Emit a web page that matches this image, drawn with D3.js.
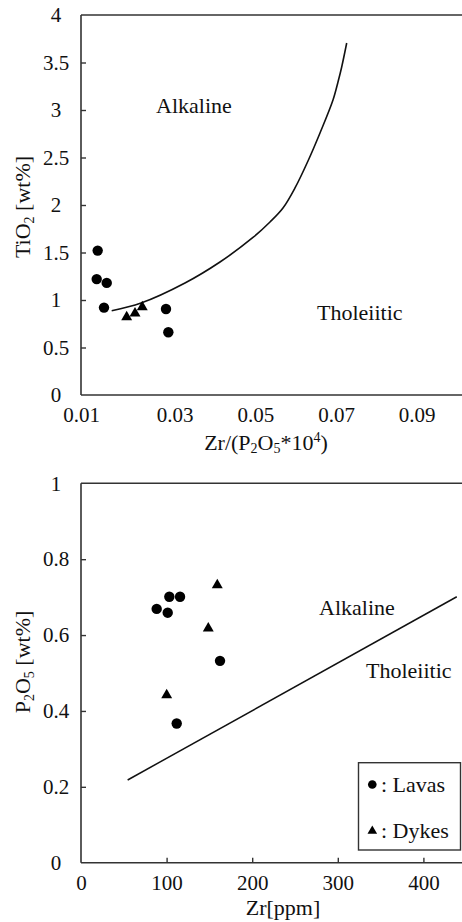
<!DOCTYPE html>
<html>
<head>
<meta charset="utf-8">
<script src="https://cdn.jsdelivr.net/npm/d3@7/dist/d3.min.js"></script>
<style>
  html, body { margin: 0; padding: 0; background: #fff; }
  svg { display: block; }
</style>
</head>
<body>
<script>
// ---------- DATA ----------
// Top panel: TiO2 vs Zr/(P2O5*10^4)
const topXTicks = [0.01, 0.03, 0.05, 0.07, 0.09];
const topYTicks = [0, 0.5, 1, 1.5, 2, 2.5, 3, 3.5, 4];
const topLavasX = [0.01356, 0.01335, 0.01549, 0.01491, 0.02814, 0.02864];
const topLavasY = [1.52, 1.22, 1.18, 0.92, 0.905, 0.66];
const topDykesX = [0.01975, 0.02153, 0.02308];
const topDykesY = [0.82, 0.86, 0.925];
const topCurveX = [0.01655, 0.02281, 0.03255, 0.04123, 0.04941, 0.05363, 0.05685, 0.05983, 0.06305, 0.06603, 0.06925, 0.07049, 0.07141, 0.07265];
const topCurveY = [0.887, 0.968, 1.179, 1.400, 1.658, 1.821, 1.968, 2.179, 2.463, 2.758, 3.105, 3.295, 3.453, 3.705];

// Bottom panel: P2O5 vs Zr
const botXTicks = [0, 100, 200, 300, 400];
const botYTicks = [0, 0.2, 0.4, 0.6, 0.8, 1];
const botLavasX = [88.4, 101.3, 103.2, 115.7, 162.4, 111.8];
const botLavasY = [0.669, 0.659, 0.701, 0.701, 0.532, 0.367];
const botDykesX = [159.2, 148.7, 100.1];
const botDykesY = [0.732, 0.618, 0.442];
const botLineX = [54.5, 439];
const botLineY = [0.218, 0.701];

const legendLabels = [": Lavas", ": Dykes"];
const fieldLabels = ["Alkaline", "Tholeiitic"];

// ---------- LAYOUT ----------
const W = 462, H = 922;
const FONT = 21;
const SERIF = '"Liberation Serif", "DejaVu Serif", "Times New Roman", Times, serif';
const svg = d3.select("body").append("svg").attr("width", W).attr("height", H)
  .attr("font-family", SERIF);
svg.append("rect").attr("width", W).attr("height", H).attr("fill", "#fff");

const axisColor = "#333";
const plotLeft = 81, plotRight = 462;

function styleAxis(g) {
  g.attr("font-family", SERIF);
  g.selectAll("path.domain").remove();
  g.selectAll(".tick line").attr("stroke", axisColor).attr("stroke-width", 1.4);
  g.selectAll(".tick text").attr("font-size", FONT).attr("font-family", SERIF).attr("fill", "#111");
}

function frame(g, top, bottom) {
  g.append("line").attr("x1", plotLeft).attr("x2", plotLeft).attr("y1", top).attr("y2", bottom)
    .attr("stroke", axisColor).attr("stroke-width", 1.6);
  g.append("line").attr("x1", plotLeft).attr("x2", plotRight).attr("y1", top).attr("y2", top)
    .attr("stroke", axisColor).attr("stroke-width", 1.6);
  g.append("line").attr("x1", plotLeft).attr("x2", plotRight).attr("y1", bottom).attr("y2", bottom)
    .attr("stroke", axisColor).attr("stroke-width", 1.6);
}

function label(g, x, y, size) {
  return g.append("text").attr("x", x).attr("y", y).attr("font-size", size)
    .attr("font-family", SERIF).attr("fill", "#111");
}

const circleSym = d3.symbol().type(d3.symbolCircle).size(Math.PI * 5.2 * 5.2);
const triSym = d3.symbol().type(d3.symbolTriangle).size(52);

// ---------- TOP PANEL ----------
const tTop = 15, tBottom = 395;
const xT = d3.scaleLinear().domain([0.01, 0.03, 0.1]).range([plotLeft, 174.7, 457]);
const yT = d3.scaleLinear().domain([0, 4]).range([tBottom, tTop]);
const gT = svg.append("g");

const yAxT = gT.append("g").attr("transform", `translate(${plotLeft},0)`)
  .call(d3.axisLeft(yT).tickValues(topYTicks).tickSizeInner(-5).tickSizeOuter(0).tickFormat(d3.format("~g")));
styleAxis(yAxT);
yAxT.selectAll(".tick text").attr("text-anchor", "middle").attr("x", -25);
yAxT.selectAll(".tick").filter(d => d === 0 || d === 4).select("line").remove();

const xAxT = gT.append("g").attr("transform", `translate(0,${tBottom})`)
  .call(d3.axisBottom(xT).tickValues(topXTicks).tickSize(0).tickPadding(12).tickFormat(d3.format(".2f")));
styleAxis(xAxT);

frame(gT, tTop, tBottom);

const curve = d3.line().x(d => xT(d[0])).y(d => yT(d[1])).curve(d3.curveCatmullRom.alpha(0.5));
gT.append("path").datum(d3.zip(topCurveX, topCurveY)).attr("d", curve)
  .attr("fill", "none").attr("stroke", "#111").attr("stroke-width", 1.6);

gT.selectAll("path.lava").data(d3.zip(topLavasX, topLavasY)).join("path").attr("class", "lava")
  .attr("d", circleSym).attr("transform", d => `translate(${xT(d[0])},${yT(d[1])})`).attr("fill", "#000");
gT.selectAll("path.dyke").data(d3.zip(topDykesX, topDykesY)).join("path").attr("class", "dyke")
  .attr("d", triSym).attr("transform", d => `translate(${xT(d[0])},${yT(d[1])})`).attr("fill", "#000");

label(gT, 156, 113, 22).text(fieldLabels[0]);
label(gT, 317, 320, 22).text(fieldLabels[1]);

// axis titles top
const tyt = label(gT, 0, 0, 22).attr("transform", "translate(30,207) rotate(-90)").attr("text-anchor", "middle");
tyt.append("tspan").text("TiO");
tyt.append("tspan").attr("font-size", 14).attr("dy", 4).text("2");
tyt.append("tspan").attr("dy", -4).text(" [wt%]");

const txt = label(gT, 266, 450, 22).attr("text-anchor", "middle");
txt.append("tspan").text("Zr/(P");
txt.append("tspan").attr("font-size", 14).attr("dy", 3).text("2");
txt.append("tspan").attr("dy", -3).text("O");
txt.append("tspan").attr("font-size", 14).attr("dy", 3).text("5");
txt.append("tspan").attr("dy", -3).text("*10");
txt.append("tspan").attr("font-size", 14).attr("dy", -8).text("4");
txt.append("tspan").attr("dy", 8).text(")");

// ---------- BOTTOM PANEL ----------
const bTop = 483.3, bBottom = 862.7;
const xB = d3.scaleLinear().domain([0, 450]).range([plotLeft, plotLeft + 450 * 0.856]);
const yB = d3.scaleLinear().domain([0, 1]).range([bBottom, bTop]);
const gB = svg.append("g");

const yAxB = gB.append("g").attr("transform", `translate(${plotLeft},0)`)
  .call(d3.axisLeft(yB).tickValues(botYTicks).tickSizeInner(-5).tickSizeOuter(0).tickFormat(d3.format("~g")));
styleAxis(yAxB);
yAxB.selectAll(".tick text").attr("text-anchor", "middle").attr("x", -25);
yAxB.selectAll(".tick").filter(d => d === 0 || d === 1).select("line").remove();

const xAxB = gB.append("g").attr("transform", `translate(0,${bBottom})`)
  .call(d3.axisBottom(xB).tickValues(botXTicks).tickSizeInner(-5).tickSizeOuter(0).tickPadding(12).tickFormat(d3.format("d")));
styleAxis(xAxB);
xAxB.selectAll(".tick").filter(d => d === 0).select("line").remove();

frame(gB, bTop, bBottom);

gB.append("path").datum(d3.zip(botLineX, botLineY))
  .attr("d", d3.line().x(d => xB(d[0])).y(d => yB(d[1])))
  .attr("fill", "none").attr("stroke", "#111").attr("stroke-width", 1.5);

gB.selectAll("path.lava").data(d3.zip(botLavasX, botLavasY)).join("path").attr("class", "lava")
  .attr("d", circleSym).attr("transform", d => `translate(${xB(d[0])},${yB(d[1])})`).attr("fill", "#000");
gB.selectAll("path.dyke").data(d3.zip(botDykesX, botDykesY)).join("path").attr("class", "dyke")
  .attr("d", triSym).attr("transform", d => `translate(${xB(d[0])},${yB(d[1])})`).attr("fill", "#000");

label(gB, 319, 615, 22).text(fieldLabels[0]);
label(gB, 366, 678, 22).text(fieldLabels[1]);

const byt = label(gB, 0, 0, 22).attr("transform", "translate(30,662) rotate(-90)").attr("text-anchor", "middle");
byt.append("tspan").text("P");
byt.append("tspan").attr("font-size", 14).attr("dy", 4).text("2");
byt.append("tspan").attr("dy", -4).text("O");
byt.append("tspan").attr("font-size", 14).attr("dy", 4).text("5");
byt.append("tspan").attr("dy", -4).text(" [wt%]");

label(gB, 283, 915, 22).attr("text-anchor", "middle").text("Zr[ppm]");

// legend
const lg = gB.append("g");
lg.append("rect").attr("x", 358.5).attr("y", 762.7).attr("width", 102).attr("height", 87.3)
  .attr("fill", "#fff").attr("stroke", axisColor).attr("stroke-width", 1.4);
lg.append("path").attr("d", d3.symbol().type(d3.symbolCircle).size(Math.PI * 4.3 * 4.3))
  .attr("transform", "translate(372.3,784.5)").attr("fill", "#000");
lg.append("path").attr("d", d3.symbol().type(d3.symbolTriangle).size(40))
  .attr("transform", "translate(372.3,831)").attr("fill", "#000");
label(lg, 381, 792, 22).text(legendLabels[0]);
label(lg, 381, 838, 22).text(legendLabels[1]);
</script>
</body>
</html>
